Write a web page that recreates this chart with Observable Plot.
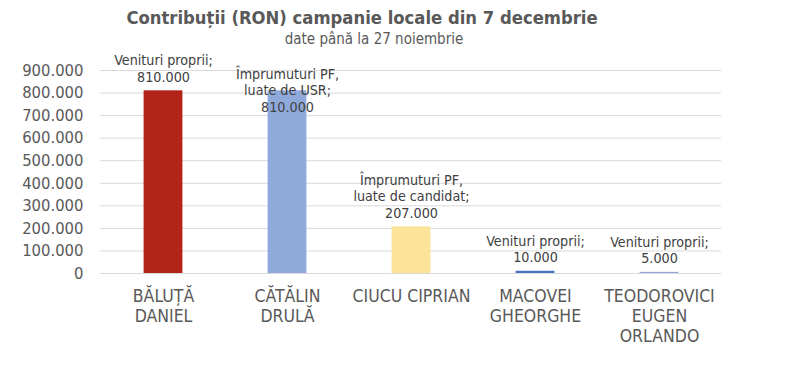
<!DOCTYPE html>
<html>
<head>
<meta charset="utf-8">
<script src="https://cdn.jsdelivr.net/npm/d3@7"></script>
<script src="https://cdn.jsdelivr.net/npm/@observablehq/plot@0.6"></script>
<style>
  body { margin: 0; background: #fff; font-family: "DejaVu Sans Condensed", "DejaVu Sans", sans-serif; }
  #wrap { width: 810px; position: relative; }
  .title { width: 724px; text-align: center; font-weight: bold; font-size: 18.3px; color: #595959; height: 27px; line-height: 27px; padding-top: 4px; }
  .subtitle { width: 748px; text-align: center; font-size: 15px; color: #595959; height: 19px; line-height: 17px; }
</style>
</head>
<body>
<div id="wrap">
  <div class="title">Contribuții (RON) campanie locale din 7 decembrie</div>
  <div class="subtitle">date până la 27 noiembrie</div>
  <div id="chart"></div>
</div>
<script>
const candidates = ["BĂLUȚĂ\nDANIEL", "CĂTĂLIN\nDRULĂ", "CIUCU CIPRIAN", "MACOVEI\nGHEORGHE", "TEODOROVICI\nEUGEN\nORLANDO"];
const values = [810000, 810000, 207000, 10000, 5000];
const sources = ["Venituri proprii;", "Împrumuturi PF,\nluate de USR;", "Împrumuturi PF,\nluate de candidat;", "Venituri proprii;", "Venituri proprii;"];
const colors = ["#B22418", "#8FA9DB", "#FBE39A", "#4A70C2", "#8EA6D8"];
const yTicks = [0, 100000, 200000, 300000, 400000, 500000, 600000, 700000, 800000, 900000];

const ro = d3.formatLocale({decimal: ",", thousands: ".", grouping: [3], currency: ["", " lei"]});
const fmt = ro.format(",d");

const data = candidates.map((c, i) => ({name: c, value: values[i], source: sources[i], color: colors[i], label: sources[i] + "\n" + fmt(values[i])}));

const chart = Plot.plot({
  width: 810,
  height: 334,
  marginTop: 20,
  marginBottom: 111,
  marginLeft: 100,
  marginRight: 89,
  style: {fontFamily: "'DejaVu Sans Condensed', 'DejaVu Sans', sans-serif", color: "#595959", background: "#fff"},
  x: {domain: candidates, padding: 0},
  y: {domain: [0, 900000]},
  marks: [
    Plot.gridY(yTicks, {stroke: "#D9D9D9", strokeOpacity: 1, strokeWidth: 1}),
    Plot.axisY(yTicks, {tickSize: 0, tickPadding: 17, tickFormat: fmt, fontSize: 16.5, fill: "#595959", label: null}),
    Plot.axisX({tickSize: 0, tickPadding: 14, fontSize: 17.5, lineHeight: 1.14, fill: "#595959", label: null, lineAnchor: "top"}),
    Plot.barY(data, {x: "name", y: "value", fill: "color", insetLeft: 42.6, insetRight: 42.6}),
    Plot.text(data.filter((d, i) => i !== 1), {x: "name", y: "value", text: "label", lineAnchor: "bottom", dy: -9, fontSize: 14.2, lineHeight: 1.16, fill: "#404040"}),
    Plot.text(data.filter((d, i) => i === 1), {x: "name", y: "value", text: "label", lineAnchor: "bottom", dy: 21, fontSize: 14.2, lineHeight: 1.16, fill: "#404040"})
  ]
});
document.getElementById("chart").appendChild(chart);
</script>
</body>
</html>
